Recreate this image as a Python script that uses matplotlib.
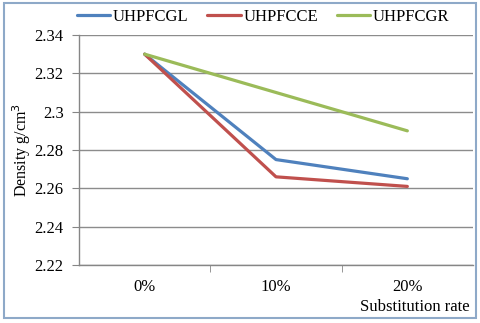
import matplotlib
matplotlib.use("Agg")
import matplotlib.pyplot as plt
from matplotlib.patches import Rectangle

categories = ["0%", "10%", "20%"]
series_names = ["UHPFCGL", "UHPFCCE", "UHPFCGR"]
gl = [2.33, 2.275, 2.265]
ce = [2.33, 2.266, 2.261]
gr = [2.33, 2.310, 2.290]
yticks = [2.22, 2.24, 2.26, 2.28, 2.30, 2.32, 2.34]
ytick_labels = ["2.22", "2.24", "2.26", "2.28", "2.3", "2.32", "2.34"]
colors = ["#4F81BD", "#C0504D", "#9BBB59"]

plt.rcParams['font.family'] = ['Liberation Serif', 'DejaVu Serif']

W, H = 480, 323
fig = plt.figure(figsize=(W / 100, H / 100), dpi=100)
ax = fig.add_axes([79 / W, (H - 265) / H, (473 - 79) / W, (265 - 35) / H])

x = list(range(len(categories)))
for vals, name, c in zip([gl, ce, gr], series_names, colors):
    ax.plot(x, vals, color=c, lw=2.3, label=name, solid_capstyle='round')

ax.set_xlim(-0.5, len(categories) - 0.5)
ax.set_ylim(2.22, 2.34)
ax.set_yticks(yticks)
ax.set_yticklabels(ytick_labels, fontsize=12)
ax.set_xticks(x)
ax.set_xticklabels(categories, fontsize=12)
ax.set_xticks([0.5, 1.5], minor=True)
ax.tick_params(axis='x', which='major', length=0, pad=10)
ax.tick_params(axis='x', which='minor', length=5, color='#868686', direction='out')
ax.tick_params(axis='y', length=5, color='#868686', pad=6)
ax.grid(axis='y', color='#8C8C8C', lw=1)
ax.set_axisbelow(True)
for s in ['top', 'right']:
    ax.spines[s].set_visible(False)
for s in ['left', 'bottom']:
    ax.spines[s].set_color('#868686')
    ax.spines[s].set_linewidth(1)

ax.set_ylabel("Density g/cm$^3$", fontsize=11.5, labelpad=1.5)
fig.text(470 / W, 1 - 307 / H, "Substitution rate", fontsize=12,
         ha='right', va='center')

leg = ax.legend(loc='center', bbox_to_anchor=((263 - 79) / 394, 1 + 18 / 230), ncol=3,
                frameon=False, fontsize=12, handlelength=2.0,
                columnspacing=1.15, handletextpad=0.15)

fig.patches.append(Rectangle((4 / W, 1 - 318 / H), 472 / W, 315 / H,
                             transform=fig.transFigure, fill=False,
                             edgecolor='#8EA9C8', lw=1.5))

fig.savefig("out.png", dpi=100)
